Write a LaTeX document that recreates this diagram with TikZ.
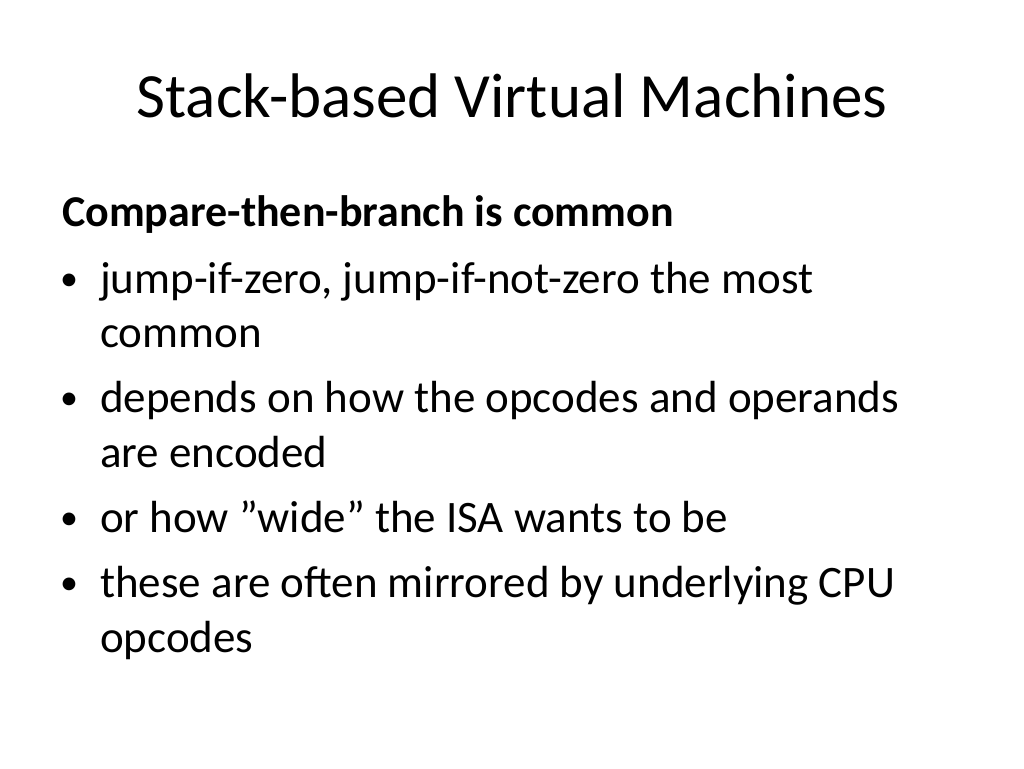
\documentclass[tikz,border=0pt]{standalone}
\usepackage{fontspec}
\setmainfont{Carlito}
\begin{document}
\begin{tikzpicture}[x=1pt,y=-1pt,
  ln/.style={anchor=base west,inner sep=0pt,font=\fontsize{45}{50}\selectfont},
  bl/.style={anchor=base west,inner sep=0pt,font=\fontsize{36}{40}\selectfont}]
\useasboundingbox (0,0) rectangle (1024,768);
\node[anchor=base,inner sep=0pt,font=\fontsize{63}{68}\selectfont] (title) at (512,117) {Stack-based Virtual Machines};
\node[ln,font=\fontsize{44}{50}\selectfont\bfseries] (h) at (62,226) {Compare-then-branch is common};
\node[bl] (b1) at (60,290) {•};
\node[ln] (l1) at (100,293) {jump-if-zero, jump-if-not-zero the most};
\node[ln] (l1b) at (100,347) {common};
\node[bl] (b2) at (60,409) {•};
\node[ln] (l2) at (100,412) {depends on how the opcodes and operands};
\node[ln] (l2b) at (100,467) {are encoded};
\node[bl] (b3) at (60,529) {•};
\node[ln] (l3) at (100,532) {or how \symbol{34}wide\symbol{34} the ISA wants to be};
\node[bl] (b4) at (60,594) {•};
\node[ln] (l4) at (100,597) {these are often mirrored by underlying CPU};
\node[ln] (l4b) at (100,652) {opcodes};
\end{tikzpicture}
\end{document}
